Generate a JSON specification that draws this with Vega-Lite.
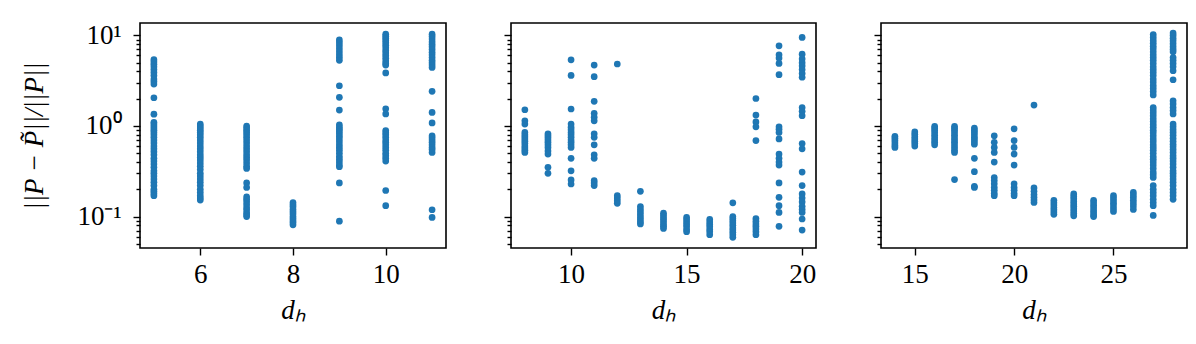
{
"$schema": "https://vega.github.io/schema/vega-lite/v6.json",
"background": "white",
"padding": {"left": 20, "top": 20, "right": 0, "bottom": 0},
"spacing": 55,
"config": {
  "view": {"stroke": "black", "strokeWidth": 1.6},
  "font": "Liberation Serif",
  "axis": {"domain": false, "grid": false, "labelFont": "Liberation Serif", "labelFontSize": 27, "labelColor": "black", "tickColor": "black", "tickWidth": 1.4, "titleFont": "Liberation Serif", "titleFontSize": 27, "titleFontWeight": "normal", "titleColor": "black", "labelOverlap": false, "labelFlush": false}
},
"datasets": {"pts": [
{"p":1,"d":5,"e":5.4},{"p":1,"d":5,"e":5.1},{"p":1,"d":5,"e":4.8},{"p":1,"d":5,"e":4.5},{"p":1,"d":5,"e":4.2},{"p":1,"d":5,"e":3.9},{"p":1,"d":5,"e":3.6},{"p":1,"d":5,"e":3.3},{"p":1,"d":5,"e":3.1},{"p":1,"d":5,"e":2.9},{"p":1,"d":5,"e":2.05},{"p":1,"d":5,"e":1.35},{"p":1,"d":5,"e":1.1},{"p":1,"d":5,"e":1.05},{"p":1,"d":5,"e":1.0},{"p":1,"d":5,"e":0.95},{"p":1,"d":5,"e":0.9},{"p":1,"d":5,"e":0.85},{"p":1,"d":5,"e":0.8},{"p":1,"d":5,"e":0.75},{"p":1,"d":5,"e":0.7},{"p":1,"d":5,"e":0.65},{"p":1,"d":5,"e":0.6},{"p":1,"d":5,"e":0.56},{"p":1,"d":5,"e":0.52},{"p":1,"d":5,"e":0.48},{"p":1,"d":5,"e":0.44},{"p":1,"d":5,"e":0.41},{"p":1,"d":5,"e":0.38},{"p":1,"d":5,"e":0.35},{"p":1,"d":5,"e":0.32},{"p":1,"d":5,"e":0.3},{"p":1,"d":5,"e":0.28},{"p":1,"d":5,"e":0.26},{"p":1,"d":5,"e":0.24},{"p":1,"d":5,"e":0.22},{"p":1,"d":5,"e":0.2},{"p":1,"d":5,"e":0.19},{"p":1,"d":5,"e":0.18},{"p":1,"d":5,"e":0.17},
{"p":1,"d":6,"e":1.05},{"p":1,"d":6,"e":1.0},{"p":1,"d":6,"e":0.95},{"p":1,"d":6,"e":0.9},{"p":1,"d":6,"e":0.85},{"p":1,"d":6,"e":0.8},{"p":1,"d":6,"e":0.75},{"p":1,"d":6,"e":0.7},{"p":1,"d":6,"e":0.65},{"p":1,"d":6,"e":0.6},{"p":1,"d":6,"e":0.56},{"p":1,"d":6,"e":0.52},{"p":1,"d":6,"e":0.48},{"p":1,"d":6,"e":0.45},{"p":1,"d":6,"e":0.42},{"p":1,"d":6,"e":0.39},{"p":1,"d":6,"e":0.36},{"p":1,"d":6,"e":0.33},{"p":1,"d":6,"e":0.3},{"p":1,"d":6,"e":0.28},{"p":1,"d":6,"e":0.26},{"p":1,"d":6,"e":0.24},{"p":1,"d":6,"e":0.22},{"p":1,"d":6,"e":0.2},{"p":1,"d":6,"e":0.185},{"p":1,"d":6,"e":0.17},{"p":1,"d":6,"e":0.16},{"p":1,"d":6,"e":0.152},
{"p":1,"d":7,"e":1.0},{"p":1,"d":7,"e":0.95},{"p":1,"d":7,"e":0.9},{"p":1,"d":7,"e":0.85},{"p":1,"d":7,"e":0.8},{"p":1,"d":7,"e":0.75},{"p":1,"d":7,"e":0.7},{"p":1,"d":7,"e":0.65},{"p":1,"d":7,"e":0.6},{"p":1,"d":7,"e":0.56},{"p":1,"d":7,"e":0.52},{"p":1,"d":7,"e":0.48},{"p":1,"d":7,"e":0.45},{"p":1,"d":7,"e":0.42},{"p":1,"d":7,"e":0.39},{"p":1,"d":7,"e":0.36},{"p":1,"d":7,"e":0.34},{"p":1,"d":7,"e":0.235},{"p":1,"d":7,"e":0.21},{"p":1,"d":7,"e":0.165},{"p":1,"d":7,"e":0.155},{"p":1,"d":7,"e":0.145},{"p":1,"d":7,"e":0.135},{"p":1,"d":7,"e":0.125},{"p":1,"d":7,"e":0.118},{"p":1,"d":7,"e":0.11},{"p":1,"d":7,"e":0.105},{"p":1,"d":7,"e":0.1},
{"p":1,"d":8,"e":0.143},{"p":1,"d":8,"e":0.135},{"p":1,"d":8,"e":0.128},{"p":1,"d":8,"e":0.12},{"p":1,"d":8,"e":0.113},{"p":1,"d":8,"e":0.107},{"p":1,"d":8,"e":0.1},{"p":1,"d":8,"e":0.095},{"p":1,"d":8,"e":0.09},{"p":1,"d":8,"e":0.086},{"p":1,"d":8,"e":0.081},
{"p":1,"d":9,"e":8.9},{"p":1,"d":9,"e":8.3},{"p":1,"d":9,"e":7.7},{"p":1,"d":9,"e":7.1},{"p":1,"d":9,"e":6.6},{"p":1,"d":9,"e":6.1},{"p":1,"d":9,"e":5.7},{"p":1,"d":9,"e":5.3},{"p":1,"d":9,"e":2.78},{"p":1,"d":9,"e":2.07},{"p":1,"d":9,"e":1.5},{"p":1,"d":9,"e":1.03},{"p":1,"d":9,"e":0.97},{"p":1,"d":9,"e":0.92},{"p":1,"d":9,"e":0.87},{"p":1,"d":9,"e":0.82},{"p":1,"d":9,"e":0.77},{"p":1,"d":9,"e":0.72},{"p":1,"d":9,"e":0.67},{"p":1,"d":9,"e":0.62},{"p":1,"d":9,"e":0.58},{"p":1,"d":9,"e":0.54},{"p":1,"d":9,"e":0.5},{"p":1,"d":9,"e":0.46},{"p":1,"d":9,"e":0.43},{"p":1,"d":9,"e":0.4},{"p":1,"d":9,"e":0.37},{"p":1,"d":9,"e":0.355},{"p":1,"d":9,"e":0.235},{"p":1,"d":9,"e":0.089},
{"p":1,"d":10,"e":10.3},{"p":1,"d":10,"e":9.8},{"p":1,"d":10,"e":9.3},{"p":1,"d":10,"e":8.8},{"p":1,"d":10,"e":8.3},{"p":1,"d":10,"e":7.8},{"p":1,"d":10,"e":7.3},{"p":1,"d":10,"e":6.8},{"p":1,"d":10,"e":6.4},{"p":1,"d":10,"e":6.0},{"p":1,"d":10,"e":5.6},{"p":1,"d":10,"e":5.2},{"p":1,"d":10,"e":4.9},{"p":1,"d":10,"e":4.7},{"p":1,"d":10,"e":3.85},{"p":1,"d":10,"e":1.55},{"p":1,"d":10,"e":1.36},{"p":1,"d":10,"e":0.89},{"p":1,"d":10,"e":0.84},{"p":1,"d":10,"e":0.8},{"p":1,"d":10,"e":0.75},{"p":1,"d":10,"e":0.7},{"p":1,"d":10,"e":0.66},{"p":1,"d":10,"e":0.62},{"p":1,"d":10,"e":0.58},{"p":1,"d":10,"e":0.54},{"p":1,"d":10,"e":0.5},{"p":1,"d":10,"e":0.47},{"p":1,"d":10,"e":0.44},{"p":1,"d":10,"e":0.41},{"p":1,"d":10,"e":0.194},{"p":1,"d":10,"e":0.132},
{"p":1,"d":11,"e":10.3},{"p":1,"d":11,"e":9.7},{"p":1,"d":11,"e":9.1},{"p":1,"d":11,"e":8.5},{"p":1,"d":11,"e":8.0},{"p":1,"d":11,"e":7.5},{"p":1,"d":11,"e":7.0},{"p":1,"d":11,"e":6.5},{"p":1,"d":11,"e":6.1},{"p":1,"d":11,"e":5.7},{"p":1,"d":11,"e":5.3},{"p":1,"d":11,"e":5.0},{"p":1,"d":11,"e":4.7},{"p":1,"d":11,"e":4.43},{"p":1,"d":11,"e":2.41},{"p":1,"d":11,"e":1.41},{"p":1,"d":11,"e":1.08},{"p":1,"d":11,"e":0.78},{"p":1,"d":11,"e":0.74},{"p":1,"d":11,"e":0.7},{"p":1,"d":11,"e":0.66},{"p":1,"d":11,"e":0.62},{"p":1,"d":11,"e":0.58},{"p":1,"d":11,"e":0.55},{"p":1,"d":11,"e":0.51},{"p":1,"d":11,"e":0.119},{"p":1,"d":11,"e":0.098},
{"p":2,"d":8,"e":1.51},{"p":2,"d":8,"e":1.14},{"p":2,"d":8,"e":1.05},{"p":2,"d":8,"e":0.85},{"p":2,"d":8,"e":0.8},{"p":2,"d":8,"e":0.76},{"p":2,"d":8,"e":0.72},{"p":2,"d":8,"e":0.68},{"p":2,"d":8,"e":0.64},{"p":2,"d":8,"e":0.6},{"p":2,"d":8,"e":0.57},{"p":2,"d":8,"e":0.54},{"p":2,"d":8,"e":0.51},
{"p":2,"d":9,"e":0.82},{"p":2,"d":9,"e":0.78},{"p":2,"d":9,"e":0.74},{"p":2,"d":9,"e":0.7},{"p":2,"d":9,"e":0.66},{"p":2,"d":9,"e":0.62},{"p":2,"d":9,"e":0.58},{"p":2,"d":9,"e":0.53},{"p":2,"d":9,"e":0.49},{"p":2,"d":9,"e":0.35},{"p":2,"d":9,"e":0.3},
{"p":2,"d":10,"e":5.38},{"p":2,"d":10,"e":3.61},{"p":2,"d":10,"e":1.54},{"p":2,"d":10,"e":1.05},{"p":2,"d":10,"e":0.97},{"p":2,"d":10,"e":0.91},{"p":2,"d":10,"e":0.85},{"p":2,"d":10,"e":0.8},{"p":2,"d":10,"e":0.75},{"p":2,"d":10,"e":0.7},{"p":2,"d":10,"e":0.66},{"p":2,"d":10,"e":0.62},{"p":2,"d":10,"e":0.58},{"p":2,"d":10,"e":0.44},{"p":2,"d":10,"e":0.32},{"p":2,"d":10,"e":0.254},{"p":2,"d":10,"e":0.229},
{"p":2,"d":11,"e":4.7},{"p":2,"d":11,"e":3.5},{"p":2,"d":11,"e":1.87},{"p":2,"d":11,"e":1.38},{"p":2,"d":11,"e":1.25},{"p":2,"d":11,"e":1.14},{"p":2,"d":11,"e":0.82},{"p":2,"d":11,"e":0.75},{"p":2,"d":11,"e":0.62},{"p":2,"d":11,"e":0.48},{"p":2,"d":11,"e":0.44},{"p":2,"d":11,"e":0.249},{"p":2,"d":11,"e":0.235},{"p":2,"d":11,"e":0.22},
{"p":2,"d":12,"e":4.83},{"p":2,"d":12,"e":0.17},{"p":2,"d":12,"e":0.16},{"p":2,"d":12,"e":0.15},{"p":2,"d":12,"e":0.14},
{"p":2,"d":13,"e":0.19},{"p":2,"d":13,"e":0.129},{"p":2,"d":13,"e":0.12},{"p":2,"d":13,"e":0.112},{"p":2,"d":13,"e":0.105},{"p":2,"d":13,"e":0.098},{"p":2,"d":13,"e":0.092},{"p":2,"d":13,"e":0.087},{"p":2,"d":13,"e":0.083},
{"p":2,"d":14,"e":0.109},{"p":2,"d":14,"e":0.103},{"p":2,"d":14,"e":0.097},{"p":2,"d":14,"e":0.092},{"p":2,"d":14,"e":0.087},{"p":2,"d":14,"e":0.082},{"p":2,"d":14,"e":0.078},{"p":2,"d":14,"e":0.074},
{"p":2,"d":15,"e":0.098},{"p":2,"d":15,"e":0.092},{"p":2,"d":15,"e":0.087},{"p":2,"d":15,"e":0.082},{"p":2,"d":15,"e":0.077},{"p":2,"d":15,"e":0.072},{"p":2,"d":15,"e":0.068},
{"p":2,"d":16,"e":0.093},{"p":2,"d":16,"e":0.087},{"p":2,"d":16,"e":0.082},{"p":2,"d":16,"e":0.077},{"p":2,"d":16,"e":0.072},{"p":2,"d":16,"e":0.068},{"p":2,"d":16,"e":0.063},
{"p":2,"d":17,"e":0.142},{"p":2,"d":17,"e":0.1},{"p":2,"d":17,"e":0.095},{"p":2,"d":17,"e":0.09},{"p":2,"d":17,"e":0.085},{"p":2,"d":17,"e":0.08},{"p":2,"d":17,"e":0.075},{"p":2,"d":17,"e":0.071},{"p":2,"d":17,"e":0.067},{"p":2,"d":17,"e":0.063},{"p":2,"d":17,"e":0.059},
{"p":2,"d":18,"e":2.01},{"p":2,"d":18,"e":1.32},{"p":2,"d":18,"e":1.11},{"p":2,"d":18,"e":0.98},{"p":2,"d":18,"e":0.69},{"p":2,"d":18,"e":0.095},{"p":2,"d":18,"e":0.089},{"p":2,"d":18,"e":0.083},{"p":2,"d":18,"e":0.078},{"p":2,"d":18,"e":0.073},{"p":2,"d":18,"e":0.068},{"p":2,"d":18,"e":0.063},
{"p":2,"d":19,"e":7.68},{"p":2,"d":19,"e":6.1},{"p":2,"d":19,"e":5.62},{"p":2,"d":19,"e":4.9},{"p":2,"d":19,"e":3.68},{"p":2,"d":19,"e":0.98},{"p":2,"d":19,"e":0.92},{"p":2,"d":19,"e":0.85},{"p":2,"d":19,"e":0.72},{"p":2,"d":19,"e":0.49},{"p":2,"d":19,"e":0.44},{"p":2,"d":19,"e":0.4},{"p":2,"d":19,"e":0.37},{"p":2,"d":19,"e":0.235},{"p":2,"d":19,"e":0.163},{"p":2,"d":19,"e":0.132},{"p":2,"d":19,"e":0.111},{"p":2,"d":19,"e":0.078},
{"p":2,"d":20,"e":9.5},{"p":2,"d":20,"e":6.2},{"p":2,"d":20,"e":5.5},{"p":2,"d":20,"e":5.0},{"p":2,"d":20,"e":4.6},{"p":2,"d":20,"e":4.2},{"p":2,"d":20,"e":3.8},{"p":2,"d":20,"e":3.45},{"p":2,"d":20,"e":1.6},{"p":2,"d":20,"e":1.45},{"p":2,"d":20,"e":1.3},{"p":2,"d":20,"e":0.64},{"p":2,"d":20,"e":0.56},{"p":2,"d":20,"e":0.31},{"p":2,"d":20,"e":0.22},{"p":2,"d":20,"e":0.178},{"p":2,"d":20,"e":0.16},{"p":2,"d":20,"e":0.145},{"p":2,"d":20,"e":0.13},{"p":2,"d":20,"e":0.12},{"p":2,"d":20,"e":0.111},{"p":2,"d":20,"e":0.094},{"p":2,"d":20,"e":0.071},
{"p":3,"d":14,"e":0.77},{"p":3,"d":14,"e":0.73},{"p":3,"d":14,"e":0.69},{"p":3,"d":14,"e":0.65},{"p":3,"d":14,"e":0.61},{"p":3,"d":14,"e":0.58},
{"p":3,"d":15,"e":0.86},{"p":3,"d":15,"e":0.81},{"p":3,"d":15,"e":0.76},{"p":3,"d":15,"e":0.72},{"p":3,"d":15,"e":0.68},{"p":3,"d":15,"e":0.64},{"p":3,"d":15,"e":0.6},
{"p":3,"d":16,"e":0.99},{"p":3,"d":16,"e":0.94},{"p":3,"d":16,"e":0.89},{"p":3,"d":16,"e":0.84},{"p":3,"d":16,"e":0.79},{"p":3,"d":16,"e":0.74},{"p":3,"d":16,"e":0.7},{"p":3,"d":16,"e":0.66},{"p":3,"d":16,"e":0.62},
{"p":3,"d":17,"e":0.99},{"p":3,"d":17,"e":0.94},{"p":3,"d":17,"e":0.89},{"p":3,"d":17,"e":0.84},{"p":3,"d":17,"e":0.79},{"p":3,"d":17,"e":0.74},{"p":3,"d":17,"e":0.7},{"p":3,"d":17,"e":0.66},{"p":3,"d":17,"e":0.62},{"p":3,"d":17,"e":0.58},{"p":3,"d":17,"e":0.54},{"p":3,"d":17,"e":0.51},{"p":3,"d":17,"e":0.256},
{"p":3,"d":18,"e":0.95},{"p":3,"d":18,"e":0.9},{"p":3,"d":18,"e":0.85},{"p":3,"d":18,"e":0.8},{"p":3,"d":18,"e":0.75},{"p":3,"d":18,"e":0.71},{"p":3,"d":18,"e":0.67},{"p":3,"d":18,"e":0.63},{"p":3,"d":18,"e":0.44},{"p":3,"d":18,"e":0.313},{"p":3,"d":18,"e":0.216},{"p":3,"d":18,"e":0.21},
{"p":3,"d":19,"e":0.78},{"p":3,"d":19,"e":0.66},{"p":3,"d":19,"e":0.58},{"p":3,"d":19,"e":0.51},{"p":3,"d":19,"e":0.4},{"p":3,"d":19,"e":0.27},{"p":3,"d":19,"e":0.25},{"p":3,"d":19,"e":0.23},{"p":3,"d":19,"e":0.21},{"p":3,"d":19,"e":0.195},{"p":3,"d":19,"e":0.18},{"p":3,"d":19,"e":0.17},
{"p":3,"d":20,"e":0.93},{"p":3,"d":20,"e":0.69},{"p":3,"d":20,"e":0.58},{"p":3,"d":20,"e":0.49},{"p":3,"d":20,"e":0.37},{"p":3,"d":20,"e":0.23},{"p":3,"d":20,"e":0.21},{"p":3,"d":20,"e":0.195},{"p":3,"d":20,"e":0.18},{"p":3,"d":20,"e":0.17},
{"p":3,"d":21,"e":1.7},{"p":3,"d":21,"e":0.207},{"p":3,"d":21,"e":0.19},{"p":3,"d":21,"e":0.175},{"p":3,"d":21,"e":0.163},{"p":3,"d":21,"e":0.152},{"p":3,"d":21,"e":0.143},
{"p":3,"d":22,"e":0.151},{"p":3,"d":22,"e":0.142},{"p":3,"d":22,"e":0.134},{"p":3,"d":22,"e":0.126},{"p":3,"d":22,"e":0.119},{"p":3,"d":22,"e":0.112},{"p":3,"d":22,"e":0.106},
{"p":3,"d":23,"e":0.178},{"p":3,"d":23,"e":0.167},{"p":3,"d":23,"e":0.157},{"p":3,"d":23,"e":0.147},{"p":3,"d":23,"e":0.138},{"p":3,"d":23,"e":0.13},{"p":3,"d":23,"e":0.122},{"p":3,"d":23,"e":0.115},{"p":3,"d":23,"e":0.108},{"p":3,"d":23,"e":0.102},
{"p":3,"d":24,"e":0.151},{"p":3,"d":24,"e":0.142},{"p":3,"d":24,"e":0.133},{"p":3,"d":24,"e":0.125},{"p":3,"d":24,"e":0.117},{"p":3,"d":24,"e":0.11},{"p":3,"d":24,"e":0.104},{"p":3,"d":24,"e":0.1},
{"p":3,"d":25,"e":0.17},{"p":3,"d":25,"e":0.16},{"p":3,"d":25,"e":0.15},{"p":3,"d":25,"e":0.14},{"p":3,"d":25,"e":0.131},{"p":3,"d":25,"e":0.122},{"p":3,"d":25,"e":0.114},
{"p":3,"d":26,"e":0.185},{"p":3,"d":26,"e":0.173},{"p":3,"d":26,"e":0.162},{"p":3,"d":26,"e":0.151},{"p":3,"d":26,"e":0.141},{"p":3,"d":26,"e":0.131},{"p":3,"d":26,"e":0.12},
{"p":3,"d":27,"e":10.2},{"p":3,"d":27,"e":9.5},{"p":3,"d":27,"e":8.8},{"p":3,"d":27,"e":8.2},{"p":3,"d":27,"e":7.6},{"p":3,"d":27,"e":7.1},{"p":3,"d":27,"e":6.6},{"p":3,"d":27,"e":6.1},{"p":3,"d":27,"e":5.7},{"p":3,"d":27,"e":5.3},{"p":3,"d":27,"e":4.9},{"p":3,"d":27,"e":4.5},{"p":3,"d":27,"e":4.2},{"p":3,"d":27,"e":3.9},{"p":3,"d":27,"e":3.6},{"p":3,"d":27,"e":3.3},{"p":3,"d":27,"e":3.05},{"p":3,"d":27,"e":2.8},{"p":3,"d":27,"e":2.6},{"p":3,"d":27,"e":2.4},{"p":3,"d":27,"e":2.2},{"p":3,"d":27,"e":1.6},{"p":3,"d":27,"e":1.5},{"p":3,"d":27,"e":1.4},{"p":3,"d":27,"e":1.3},{"p":3,"d":27,"e":1.2},{"p":3,"d":27,"e":1.12},{"p":3,"d":27,"e":1.04},{"p":3,"d":27,"e":0.97},{"p":3,"d":27,"e":0.9},{"p":3,"d":27,"e":0.84},{"p":3,"d":27,"e":0.78},{"p":3,"d":27,"e":0.72},{"p":3,"d":27,"e":0.67},{"p":3,"d":27,"e":0.62},{"p":3,"d":27,"e":0.58},{"p":3,"d":27,"e":0.54},{"p":3,"d":27,"e":0.5},{"p":3,"d":27,"e":0.46},{"p":3,"d":27,"e":0.43},{"p":3,"d":27,"e":0.4},{"p":3,"d":27,"e":0.37},{"p":3,"d":27,"e":0.34},{"p":3,"d":27,"e":0.31},{"p":3,"d":27,"e":0.29},{"p":3,"d":27,"e":0.27},{"p":3,"d":27,"e":0.22},{"p":3,"d":27,"e":0.2},{"p":3,"d":27,"e":0.185},{"p":3,"d":27,"e":0.17},{"p":3,"d":27,"e":0.155},{"p":3,"d":27,"e":0.143},{"p":3,"d":27,"e":0.132},{"p":3,"d":27,"e":0.103},
{"p":3,"d":28,"e":10.6},{"p":3,"d":28,"e":10.0},{"p":3,"d":28,"e":9.3},{"p":3,"d":28,"e":8.7},{"p":3,"d":28,"e":8.1},{"p":3,"d":28,"e":7.5},{"p":3,"d":28,"e":7.0},{"p":3,"d":28,"e":6.6},{"p":3,"d":28,"e":5.7},{"p":3,"d":28,"e":5.3},{"p":3,"d":28,"e":4.9},{"p":3,"d":28,"e":4.5},{"p":3,"d":28,"e":4.07},{"p":3,"d":28,"e":3.24},{"p":3,"d":28,"e":1.9},{"p":3,"d":28,"e":1.75},{"p":3,"d":28,"e":1.6},{"p":3,"d":28,"e":1.48},{"p":3,"d":28,"e":1.36},{"p":3,"d":28,"e":1.05},{"p":3,"d":28,"e":0.98},{"p":3,"d":28,"e":0.91},{"p":3,"d":28,"e":0.85},{"p":3,"d":28,"e":0.79},{"p":3,"d":28,"e":0.73},{"p":3,"d":28,"e":0.68},{"p":3,"d":28,"e":0.63},{"p":3,"d":28,"e":0.59},{"p":3,"d":28,"e":0.55},{"p":3,"d":28,"e":0.51},{"p":3,"d":28,"e":0.47},{"p":3,"d":28,"e":0.44},{"p":3,"d":28,"e":0.41},{"p":3,"d":28,"e":0.38},{"p":3,"d":28,"e":0.35},{"p":3,"d":28,"e":0.32},{"p":3,"d":28,"e":0.3},{"p":3,"d":28,"e":0.28},{"p":3,"d":28,"e":0.26},{"p":3,"d":28,"e":0.24},{"p":3,"d":28,"e":0.22},{"p":3,"d":28,"e":0.2},{"p":3,"d":28,"e":0.185},{"p":3,"d":28,"e":0.17},{"p":3,"d":28,"e":0.155}
]},
"hconcat": [
{
  "width": 306, "height": 225,
  "data": {"name": "pts"},
  "transform": [{"filter": "datum.p == 1"}],
  "mark": {"type": "circle", "color": "#1f77b4", "opacity": 1, "size": 45},
  "encoding": {
    "x": {"field": "d", "type": "quantitative", "scale": {"domain": [4.7, 11.3], "nice": false, "zero": false},
      "axis": {"values": [6, 8, 10], "title": "dₕ", "titleFontStyle": "italic", "tickSize": 7, "labelPadding": 6, "titlePadding": 10}},
    "y": {"field": "e", "type": "quantitative", "scale": {"type": "log", "domain": [0.045, 13.7], "nice": false},
      "axis": {"values": [0.05,0.06,0.07,0.08,0.09,0.1,0.2,0.3,0.4,0.5,0.6,0.7,0.8,0.9,1,2,3,4,5,6,7,8,9,10],
        "tickSize": {"condition": {"test": "datum.value == 0.1 || datum.value == 1 || datum.value == 10", "value": 7}, "value": 4},
        "labelExpr": "datum.value == 10 ? '10¹' : datum.value == 1 ? '10⁰' : datum.value == 0.1 ? '10⁻¹' : ''",
        "labelPadding": 12, "title": "||P − P̃||/||P||", "titleFontStyle": "italic", "titlePadding": 28}}
  }
},
{
  "width": 305, "height": 225,
  "data": {"name": "pts"},
  "transform": [{"filter": "datum.p == 2"}],
  "mark": {"type": "circle", "color": "#1f77b4", "opacity": 1, "size": 45},
  "encoding": {
    "x": {"field": "d", "type": "quantitative", "scale": {"domain": [7.4, 20.6], "nice": false, "zero": false},
      "axis": {"values": [10, 15, 20], "title": "dₕ", "titleFontStyle": "italic", "tickSize": 7, "labelPadding": 6, "titlePadding": 10}},
    "y": {"field": "e", "type": "quantitative", "scale": {"type": "log", "domain": [0.045, 13.7], "nice": false},
      "axis": {"values": [0.05,0.06,0.07,0.08,0.09,0.1,0.2,0.3,0.4,0.5,0.6,0.7,0.8,0.9,1,2,3,4,5,6,7,8,9,10],
        "tickSize": {"condition": {"test": "datum.value == 0.1 || datum.value == 1 || datum.value == 10", "value": 7}, "value": 4},
        "labels": false, "title": null}}
  }
},
{
  "width": 306, "height": 225,
  "data": {"name": "pts"},
  "transform": [{"filter": "datum.p == 3"}],
  "mark": {"type": "circle", "color": "#1f77b4", "opacity": 1, "size": 45},
  "encoding": {
    "x": {"field": "d", "type": "quantitative", "scale": {"domain": [13.3, 28.7], "nice": false, "zero": false},
      "axis": {"values": [15, 20, 25], "title": "dₕ", "titleFontStyle": "italic", "tickSize": 7, "labelPadding": 6, "titlePadding": 10}},
    "y": {"field": "e", "type": "quantitative", "scale": {"type": "log", "domain": [0.045, 13.7], "nice": false},
      "axis": {"values": [0.05,0.06,0.07,0.08,0.09,0.1,0.2,0.3,0.4,0.5,0.6,0.7,0.8,0.9,1,2,3,4,5,6,7,8,9,10],
        "tickSize": {"condition": {"test": "datum.value == 0.1 || datum.value == 1 || datum.value == 10", "value": 7}, "value": 4},
        "labels": false, "title": null}}
  }
}
]
}
